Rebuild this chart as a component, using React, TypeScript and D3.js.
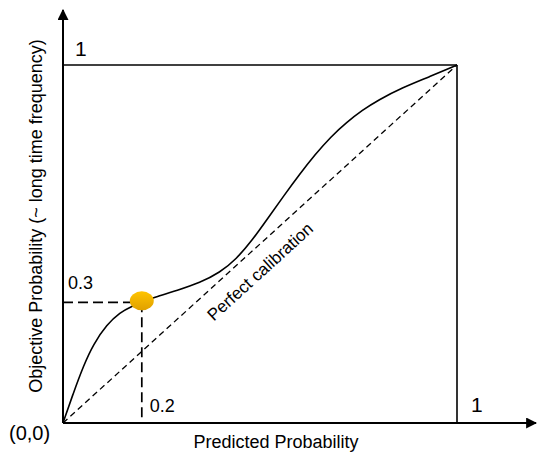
import React from "react";
import * as d3 from "d3";

const W = 537;
const H = 452;

// Calibration curve (predicted, objective)
const curveX = [0, 0.026, 0.052, 0.077, 0.111, 0.145, 0.174, 0.2, 0.238, 0.289, 0.348, 0.398, 0.44, 0.48, 0.52, 0.56, 0.6, 0.64, 0.68, 0.72, 0.76, 0.8, 0.86, 0.93, 1];
const curveY = [0, 0.083, 0.16, 0.22, 0.275, 0.309, 0.326, 0.337, 0.353, 0.37, 0.392, 0.42, 0.458, 0.51, 0.572, 0.634, 0.694, 0.75, 0.8, 0.84, 0.874, 0.902, 0.936, 0.967, 1];

// Highlighted point and its labels
const pointX = [0.2];
const pointY = [0.337];
const pointLabelX = ["0.2"];
const pointLabelY = ["0.3"];

const diagonalX = [0, 1];
const diagonalY = [0, 1];

const xTitle = "Predicted Probability";
const yTitle = "Objective Probability (~ long time frequency)";
const diagTitle = "Perfect calibration";
const oneLabel = "1";
const originLabel = "(0,0)";

const FONT = "Liberation Sans, Arial, Helvetica, sans-serif";

export default function App() {
  const x = d3.scaleLinear().domain([0, 1]).range([63, 457]);
  const y = d3.scaleLinear().domain([0, 1]).range([423, 65]);

  const pts: [number, number][] = curveX.map((v, i) => [v, curveY[i]]);
  const line = d3
    .line<[number, number]>()
    .x((d) => x(d[0]))
    .y((d) => y(d[1]))
    .curve(d3.curveBasis);

  const diag = d3
    .line<number>()
    .x((_, i) => x(diagonalX[i]))
    .y((_, i) => y(diagonalY[i]));

  const angle = (Math.atan2(y(0) - y(1), x(1) - x(0)) * 180) / Math.PI;
  const px = x(pointX[0]);
  const py = y(pointY[0]);
  const ox = x(0);
  const oy = y(0);

  const dcx = x(0.5);
  const dcy = y(0.5);

  return (
    <div style={{ position: "fixed", left: 0, top: 0, width: W, height: H, background: "#fff" }}>
      <svg width={W} height={H} style={{ display: "block" }} fontFamily={FONT}>
        <defs>
          <linearGradient id="dotGrad" x1="0" y1="0" x2="0" y2="1">
            <stop offset="0%" stopColor="#FFC400" />
            <stop offset="100%" stopColor="#E0A000" />
          </linearGradient>
          <marker id="arrow" viewBox="0 0 10 10" refX="9" refY="5" markerWidth="5.5" markerHeight="5.5" orient="auto" markerUnits="strokeWidth">
            <path d="M0,0 L10,5 L0,10 z" fill="#000" />
          </marker>
        </defs>

        {/* frame: top and right */}
        <line x1={x(0)} y1={y(1)} x2={x(1)} y2={y(1)} stroke="#000" strokeWidth={1.6} />
        <line x1={x(1)} y1={y(1)} x2={x(1)} y2={y(0)} stroke="#000" strokeWidth={1.6} />

        {/* diagonal */}
        <path d={diag(diagonalX) || ""} fill="none" stroke="#000" strokeWidth={1.3} strokeDasharray="6,4" />

        {/* guide dashes */}
        <line x1={ox} y1={py} x2={px} y2={py} stroke="#000" strokeWidth={1.7} strokeDasharray="10,5" />
        <line x1={px} y1={py} x2={px} y2={oy - 2} stroke="#000" strokeWidth={1.7} strokeDasharray="10,5" />

        {/* curve */}
        <path d={line(pts) || ""} fill="none" stroke="#000" strokeWidth={1.6} />

        {/* point */}
        <ellipse cx={px} cy={py - 1.5} rx={12} ry={9.5} fill="url(#dotGrad)" />

        {/* axes */}
        <line x1={ox} y1={oy} x2={ox} y2={10} stroke="#000" strokeWidth={2} markerEnd="url(#arrow)" />
        <line x1={ox} y1={oy} x2={536} y2={oy} stroke="#000" strokeWidth={2} markerEnd="url(#arrow)" />

        {/* labels */}
        <text x={ox + 12} y={y(1) - 9} fontSize={21} fill="#000">{oneLabel}</text>
        <text x={x(1) + 14} y={oy - 11} fontSize={21} fill="#000">{oneLabel}</text>
        <text x={9} y={oy + 17} fontSize={20} fill="#000">{originLabel}</text>
        <text x={ox + 5} y={py - 13} fontSize={18} fill="#000">{pointLabelY[0]}</text>
        <text x={px + 8} y={oy - 11} fontSize={18} fill="#000">{pointLabelX[0]}</text>

        <text x={276} y={448} fontSize={18} textAnchor="middle" fill="#000">{xTitle}</text>
        <text transform={`translate(42,216) rotate(-90)`} fontSize={18} textAnchor="middle" fill="#000">{yTitle}</text>

        <text
          transform={`translate(${dcx + 4},${dcy + 32}) rotate(${-angle})`}
          fontSize={17}
          textAnchor="middle"
          fill="#000"
        >
          {diagTitle}
        </text>
      </svg>
    </div>
  );
}
